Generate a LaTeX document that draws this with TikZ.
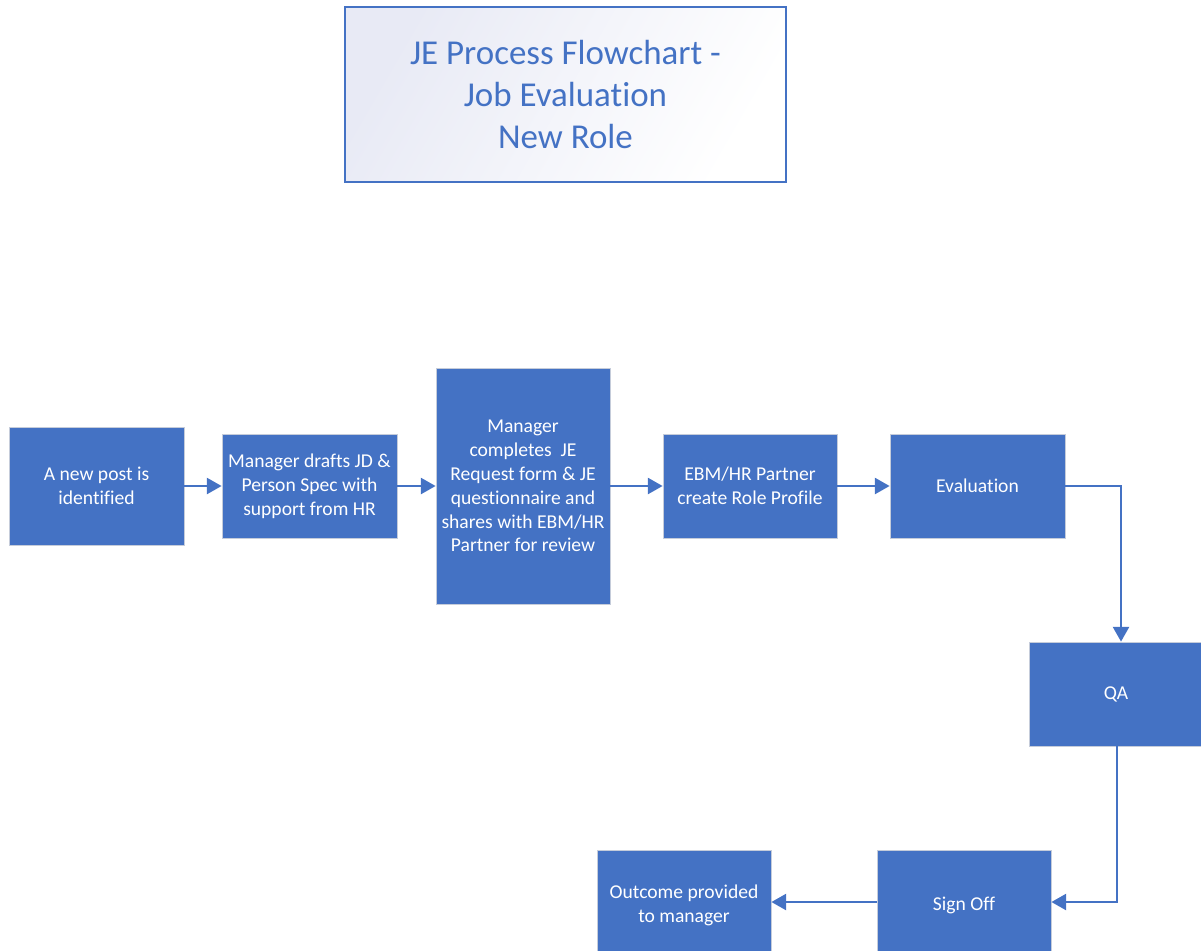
\documentclass[tikz,border=0pt]{standalone}
\usepackage{fontspec}
\setmainfont{Carlito}[Ligatures=NoCommon]
\usetikzlibrary{arrows.meta}
\definecolor{jeblue}{HTML}{4472C4}
\definecolor{jeedge}{HTML}{C5CCDA}
\definecolor{jelav}{HTML}{E8EAF5}
\tikzset{
  stepbox/.style={fill=jeblue, draw=jeedge, line width=0.6pt, text=white, align=center,
    inner sep=0pt, font=\fontsize{14.7}{17.9}\selectfont},
  flow/.style={draw=jeblue, line width=1.6pt, -{Triangle[length=11pt,width=12pt]}},
}
\begin{document}
\begin{tikzpicture}[x=0.75pt,y=-0.75pt]
\useasboundingbox (0,0) rectangle (1201,950);
% title
\node[draw=jeblue, line width=1.2pt, left color=jelav, right color=white, shading angle=60,
  minimum width=441*0.75pt, minimum height=175*0.75pt, inner sep=0pt, text=jeblue, align=center,
  font=\fontsize{26.2}{31.2}\selectfont] (title) at (565.5,94.5)
  {JE Process Flowchart -\\Job Evaluation\\New Role};
% boxes
\node[stepbox, minimum width=175*0.75pt, minimum height=118*0.75pt] (n1) at (96.5,486) {A new post is\\identified};
\node[stepbox, minimum width=175*0.75pt, minimum height=104*0.75pt] (n2) at (309.5,486) {Manager drafts JD \&\\Person Spec with\\support from HR};
\node[stepbox, minimum width=174*0.75pt, minimum height=236*0.75pt] (n3) at (523,486) {Manager\\completes\ \ JE\\Request form \& JE\\questionnaire and\\shares with EBM/HR\\Partner for review};
\node[stepbox, minimum width=174*0.75pt, minimum height=104*0.75pt] (n4) at (750,486) {EBM/HR Partner\\create Role Profile};
\node[stepbox, minimum width=175*0.75pt, minimum height=104*0.75pt] (n5) at (977.5,486) {Evaluation};
\node[stepbox, minimum width=174*0.75pt, minimum height=104*0.75pt] (n6) at (1116,694) {QA};
\node[stepbox, minimum width=174*0.75pt, minimum height=110*0.75pt] (n7) at (964,905) {Sign Off};
\node[stepbox, minimum width=174*0.75pt, minimum height=110*0.75pt] (n8) at (684,905) {Outcome provided\\to manager};
% connectors
\coordinate (c0) at (0,902);
\draw[flow] (n1) -- (n2);
\draw[flow] (n2) -- (n3);
\draw[flow] (n3.east |- n4) -- (n4);
\draw[flow] (n4) -- (n5);
\coordinate (c1) at (1121,486);
\draw[flow] (n5.east) -- (c1) -- (c1 |- n6.north);
\coordinate (c2) at (1117,902);
\draw[flow] (c2 |- n6.south) -- (c2) -- (n7.east |- c2);
\draw[flow] (n7.west |- c0) -- (n8.east |- c0);
\end{tikzpicture}
\end{document}
